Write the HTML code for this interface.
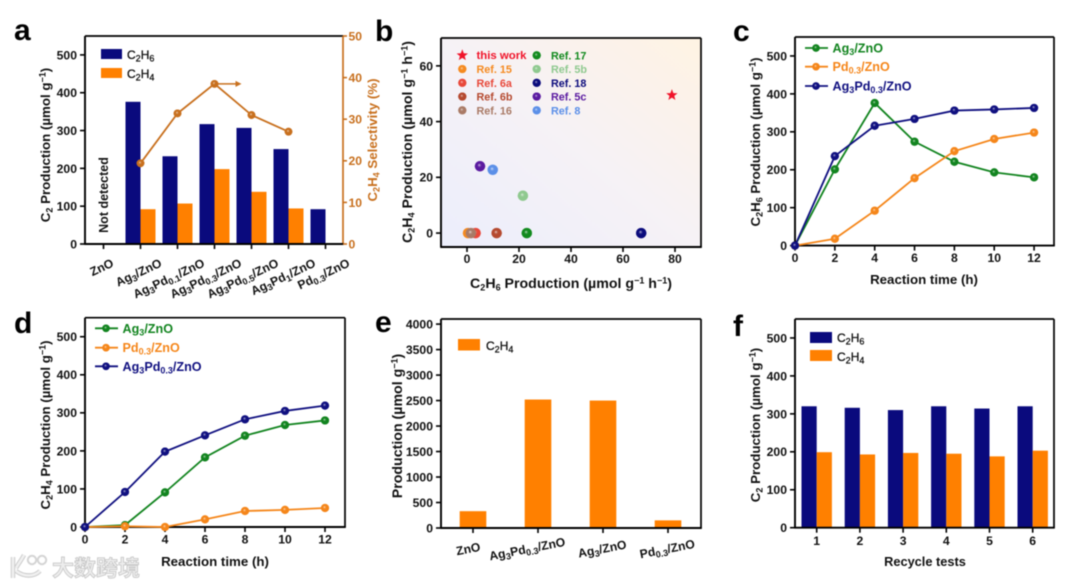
<!DOCTYPE html>
<html lang="en">
<head>
<meta charset="utf-8">
<title>C2 production charts</title>
<style>
html,body{margin:0;padding:0;background:#fff;}
#figure{display:block;width:1080px;height:588px;filter:blur(0.5px);}
text{font-family:"Liberation Sans","Noto Sans CJK SC",sans-serif;font-weight:bold;fill:#111;}
.title{font-size:13.3px;}
.wide-title{font-size:14.2px;}
.tick{font-size:12.2px;}
.panel{font-size:30px;fill:#000;}
.legend{font-size:12px;font-weight:normal;stroke:#111;stroke-width:0.3px;}
.sub{font-size:9px;}
.sup{font-size:9px;}
</style>
</head>
<body>
<svg id="figure" xmlns="http://www.w3.org/2000/svg" width="1080" height="588" viewBox="0 0 1080 588">
  <defs>
    <linearGradient id="b-bg" x1="0" y1="1" x2="1" y2="0">
      <stop offset="0" stop-color="#eceefc"/>
      <stop offset="0.5" stop-color="#f6f2f6"/>
      <stop offset="1" stop-color="#fff3e3"/>
    </linearGradient>
  </defs>
  <rect x="0" y="0" width="1080" height="588" fill="#fff"/>

  <text class="panel" x="14" y="40">a</text>
  <text class="panel" x="375" y="41">b</text>
  <text class="panel" x="733" y="41">c</text>
  <text class="panel" x="14" y="333">d</text>
  <text class="panel" x="375" y="332">e</text>
  <text class="panel" x="733" y="336">f</text>

  <rect x="441" y="38" width="260" height="209" fill="url(#b-bg)"/>

  <g id="layer-a"></g>
  <g id="layer-b"></g>
  <g id="layer-c"></g>
  <g id="layer-d"></g>
  <g id="layer-e"></g>
  <g id="layer-f"></g>

  <!-- Chart a static text -->
  <text class="title" transform="translate(50,145) rotate(-90)" text-anchor="middle">C<tspan class="sub" dy="2.5">2</tspan><tspan dy="-2.5"> Production (µmol g</tspan><tspan class="sup" dy="-4.5">−1</tspan><tspan dy="4.5">)</tspan></text>
  <text class="title" transform="translate(377,140) rotate(-90)" text-anchor="middle" style="fill:#c8701e">C<tspan class="sub" dy="2.5" style="fill:#c8701e">2</tspan><tspan dy="-2.5" style="fill:#c8701e">H</tspan><tspan class="sub" dy="2.5" style="fill:#c8701e">4</tspan><tspan dy="-2.5" style="fill:#c8701e"> Selectivity (%)</tspan></text>
  <text class="title" transform="translate(108,195) rotate(-90)" text-anchor="middle" style="font-size:12.5px">Not detected</text>
  <rect x="101" y="49" width="21" height="10" fill="#0a0a7d"/>
  <rect x="101" y="68" width="21" height="10" fill="#ff8000"/>
  <text class="legend" x="127" y="59">C<tspan class="sub" dy="2.5">2</tspan><tspan dy="-2.5">H</tspan><tspan class="sub" dy="2.5">6</tspan></text>
  <text class="legend" x="127" y="78">C<tspan class="sub" dy="2.5">2</tspan><tspan dy="-2.5">H</tspan><tspan class="sub" dy="2.5">4</tspan></text>

  <!-- Chart b static text -->
  <text class="wide-title" x="571" y="288" text-anchor="middle">C<tspan class="sub" dy="2.5">2</tspan><tspan dy="-2.5">H</tspan><tspan class="sub" dy="2.5">6</tspan><tspan dy="-2.5"> Production (µmol g</tspan><tspan class="sup" dy="-4.5">−1</tspan><tspan dy="4.5"> h</tspan><tspan class="sup" dy="-4.5">−1</tspan><tspan dy="4.5">)</tspan></text>
  <text class="wide-title" transform="translate(412,142) rotate(-90)" text-anchor="middle">C<tspan class="sub" dy="2.5">2</tspan><tspan dy="-2.5">H</tspan><tspan class="sub" dy="2.5">4</tspan><tspan dy="-2.5"> Production (µmol g</tspan><tspan class="sup" dy="-4.5">−1</tspan><tspan dy="4.5"> h</tspan><tspan class="sup" dy="-4.5">−1</tspan><tspan dy="4.5">)</tspan></text>

  <!-- Chart c static text -->
  <text class="title" x="924" y="284" text-anchor="middle">Reaction time (h)</text>
  <text class="title" transform="translate(760,142) rotate(-90)" text-anchor="middle">C<tspan class="sub" dy="2.5">2</tspan><tspan dy="-2.5">H</tspan><tspan class="sub" dy="2.5">6</tspan><tspan dy="-2.5"> Production (µmol g</tspan><tspan class="sup" dy="-4.5">−1</tspan><tspan dy="4.5">)</tspan></text>

  <!-- Chart d static text -->
  <text class="title" x="215" y="566" text-anchor="middle">Reaction time (h)</text>
  <text class="title" transform="translate(50,425) rotate(-90)" text-anchor="middle">C<tspan class="sub" dy="2.5">2</tspan><tspan dy="-2.5">H</tspan><tspan class="sub" dy="2.5">4</tspan><tspan dy="-2.5"> Production (µmol g</tspan><tspan class="sup" dy="-4.5">−1</tspan><tspan dy="4.5">)</tspan></text>

  <!-- Chart e static text -->
  <text class="wide-title" transform="translate(402,426) rotate(-90)" text-anchor="middle">Production (µmol g<tspan class="sup" dy="-4.5">−1</tspan><tspan dy="4.5">)</tspan></text>
  <rect x="458" y="339" width="22" height="11.5" fill="#ff8000"/>
  <text class="legend" x="486" y="350">C<tspan class="sub" dy="2.5">2</tspan><tspan dy="-2.5">H</tspan><tspan class="sub" dy="2.5">4</tspan></text>

  <!-- Chart f static text -->
  <text class="title" x="925" y="566" text-anchor="middle" style="font-size:12.8px">Recycle tests</text>
  <text class="title" transform="translate(760,425) rotate(-90)" text-anchor="middle">C<tspan class="sub" dy="2.5">2</tspan><tspan dy="-2.5"> Production (µmol g</tspan><tspan class="sup" dy="-4.5">−1</tspan><tspan dy="4.5">)</tspan></text>
  <rect x="810" y="332" width="22" height="11" fill="#0a0a7d"/>
  <rect x="810" y="350" width="22" height="11" fill="#ff8000"/>
  <text class="legend" x="837" y="342">C<tspan class="sub" dy="2.5">2</tspan><tspan dy="-2.5">H</tspan><tspan class="sub" dy="2.5">6</tspan></text>
  <text class="legend" x="837" y="361">C<tspan class="sub" dy="2.5">2</tspan><tspan dy="-2.5">H</tspan><tspan class="sub" dy="2.5">4</tspan></text>

  <!-- Watermark -->
  <g>
    <path d="M13 557 L13 578 M16 571 C24 577 34 577 40 571 M16 568 C19 563 22 559 24 555" fill="none" stroke="#c9c9c9" stroke-width="4.4"/>
    <path d="M13 557 L13 578 M16 571 C24 577 34 577 40 571 M16 568 C19 563 22 559 24 555" fill="none" stroke="#f0f0f0" stroke-width="2.6"/>
    <circle cx="32" cy="560" r="4.2" fill="none" stroke="#d4d4d4" stroke-width="2"/>
    <circle cx="42" cy="560" r="4.2" fill="none" stroke="#d4d4d4" stroke-width="2"/>
    <text x="52" y="576" style="font-size:22px;font-weight:bold;fill:#ededed;stroke:#c6c6c6;stroke-width:0.8px">大数跨境</text>
  </g>

  <script>
  // ---------- Chart a data ----------
  const aCategories = ['ZnO','Ag_{3}/ZnO','Ag_{3}Pd_{0.1}/ZnO','Ag_{3}Pd_{0.3}/ZnO','Ag_{3}Pd_{0.5}/ZnO','Ag_{3}Pd_{1}/ZnO','Pd_{0.3}/ZnO'];
  const aC2H6 = [0,376,232,317,307,251,92];
  const aC2H4 = [0,92,107,198,138,94,0];
  const aSelectivity = [null,19.4,31.4,38.5,31,27,null];
  const aLeftTicks = [0,100,200,300,400,500];
  const aRightTicks = [0,10,20,30,40,50];

  // ---------- Chart b data ----------
  const bRefs = ['Ref. 15','Ref. 6a','Ref. 6b','Ref. 16','Ref. 17','Ref. 5b','Ref. 18','Ref. 5c','Ref. 8'];
  const bRefX = [0.4,3.3,11.4,1.5,23,21.5,67,5,9.9];
  const bRefY = [0,0,0,0,0,13.4,0,24,22.7];
  const bRefColors = ['#f58a20','#e8483a','#b5492f','#a97a66','#128a1e','#8fc98f','#0b0b7c','#5a1aa0','#5b8fe8'];
  const bThisWorkX = 78.8;
  const bThisWorkY = 49.5;
  const bXTicks = [0,20,40,60,80];
  const bYTicks = [0,20,40,60];

  // ---------- Chart c data ----------
  const cTimes = [0,2,4,6,8,10,12];
  const cAg3 = [0,201,376,274,221,193,180];
  const cPd = [0,18,92,178,249,281,298];
  const cAg3Pd = [0,236,316,334,356,359,363];
  const cYTicks = [0,100,200,300,400,500];

  // ---------- Chart d data ----------
  const dTimes = [0,2,4,6,8,10,12];
  const dAg3 = [0,5,91,183,240,268,280];
  const dPd = [0,2,0,20,42,45,50];
  const dAg3Pd = [0,92,198,241,283,305,319];
  const dYTicks = [0,100,200,300,400,500];

  // ---------- Chart e data ----------
  const eCategories = ['ZnO','Ag_{3}Pd_{0.3}/ZnO','Ag_{3}/ZnO','Pd_{0.3}/ZnO'];
  const eC2H4 = [330,2520,2500,150];
  const eYTicks = [0,500,1000,1500,2000,2500,3000,3500,4000];

  // ---------- Chart f data ----------
  const fTests = ['1','2','3','4','5','6'];
  const fC2H6 = [320,316,310,320,314,320];
  const fC2H4 = [199,193,197,195,188,203];
  const fYTicks = [0,100,200,300,400,500];

  const NS = 'http://www.w3.org/2000/svg';
  const NAVY = '#0a0a7d', ORANGE = '#ff8000', GREEN = '#12841f', LINE_ORANGE = '#f5861a', LINE_NAVY = '#101080', BROWN = '#c8701e';
  const figure = document.getElementById('figure');
  const defs = figure.querySelector('defs');

  function linear(d0, d1, r0, r1) {
    return function (v) { return r0 + (v - d0) * (r1 - r0) / (d1 - d0); };
  }

  function add(parent, tag, name, attrs) {
    const el = document.createElementNS(NS, tag);
    
    
    for (const k in attrs) el.setAttribute(k, attrs[k]);
    parent.appendChild(el);
    return el;
  }

  function rich(el, str) {
    const parts = str.split(/(_\{[^}]*\})/);
    let shift = 0;
    parts.forEach(function (p) {
      if (!p) return;
      const ts = document.createElementNS(NS, 'tspan');
      if (p.charAt(0) === '_' && p.charAt(1) === '{') {
        ts.textContent = p.slice(2, -1);
        ts.setAttribute('class', 'sub');
        ts.setAttribute('dy', 2.5 - shift);
        shift = 2.5;
      } else {
        ts.textContent = p;
        ts.setAttribute('dy', -shift);
        shift = 0;
      }
      el.appendChild(ts);
    });
    return el;
  }

  let gradCount = 0;
  function sphere(color) {
    const id = 'sphere-' + (gradCount++);
    const g = document.createElementNS(NS, 'radialGradient');
    g.setAttribute('id', id);
    g.setAttribute('cx', '0.5');
    g.setAttribute('cy', '0.5');
    g.setAttribute('r', '0.55');
    g.setAttribute('fx', '0.42');
    g.setAttribute('fy', '0.38');
    [[0, '#ffffff', 0.8], [0.4, color, 0.25], [1, color, 1]].forEach(function (s) {
      const st = document.createElementNS(NS, 'stop');
      st.setAttribute('offset', s[0]);
      st.setAttribute('stop-color', s[1]);
      st.setAttribute('stop-opacity', s[2]);
      g.appendChild(st);
    });
    defs.appendChild(g);
    return 'url(#' + id + ')';
  }

  function marker(parent, name, x, y, r, color, fill) {
    add(parent, 'circle', name, { cx: x, cy: y, r: r, fill: color });
    add(parent, 'circle', name + '-shine', { cx: x, cy: y, r: r, fill: fill || sphere(color) });
  }

  function starPoints(cx, cy, r) {
    const pts = [];
    for (let i = 0; i < 10; i++) {
      const rad = i % 2 ? r * 0.42 : r;
      const a = -Math.PI / 2 + i * Math.PI / 5;
      pts.push((cx + rad * Math.cos(a)).toFixed(2) + ',' + (cy + rad * Math.sin(a)).toFixed(2));
    }
    return pts.join(' ');
  }

  function frame(parent, prefix, l, t, r, b, rightColor) {
    add(parent, 'line', prefix + '-top-border', { x1: l, x2: r, y1: t, y2: t, stroke: '#000', 'stroke-width': 1.7 });
    add(parent, 'line', prefix + '-right-border', { x1: r, x2: r, y1: t, y2: b, stroke: rightColor || '#000', 'stroke-width': 1.7 });
    add(parent, 'line', prefix + '-x-axis', { x1: l - 0.8, x2: r + 0.8, y1: b, y2: b, stroke: '#000', 'stroke-width': 1.9 });
    add(parent, 'line', prefix + '-y-axis', { x1: l, x2: l, y1: t, y2: b, stroke: '#000', 'stroke-width': 1.9 });
  }

  function yAxisTicks(parent, prefix, ticks, y, l) {
    ticks.forEach(function (v) {
      add(parent, 'line', prefix + '-y-tick-' + v, { x1: l - 5, x2: l, y1: y(v), y2: y(v), stroke: '#000', 'stroke-width': 1.6 });
      const t = add(parent, 'text', prefix + '-y-tick-label-' + v, { x: l - 8, y: y(v) + 4.4, 'text-anchor': 'end', class: 'tick' });
      t.textContent = v;
    });
  }

  function xAxisTicks(parent, prefix, values, labels, x, b, baseline) {
    values.forEach(function (v, i) {
      add(parent, 'line', prefix + '-x-tick-' + labels[i], { x1: x(v), x2: x(v), y1: b, y2: b + 5, stroke: '#000', 'stroke-width': 1.6 });
      const t = add(parent, 'text', prefix + '-x-tick-label-' + labels[i], { x: x(v), y: baseline, 'text-anchor': 'middle', class: 'tick' });
      t.textContent = labels[i];
    });
  }

  function bars(parent, prefix, values, x, y, width, color, offset) {
    values.forEach(function (v, i) {
      add(parent, 'rect', prefix + '-' + (i + 1), {
        x: x(i) + offset, y: y(v), width: width, height: Math.max(0, y(0) - y(v)), fill: color
      });
    });
  }

  function lineSeries(parent, prefix, xs, ys, x, y, color, r) {
    const pts = xs.map(function (v, i) { return x(v) + ',' + y(ys[i]); }).join(' ');
    add(parent, 'polyline', prefix + '-line', { points: pts, fill: 'none', stroke: color, 'stroke-width': 1.8 });
    const fill = sphere(color);
    xs.forEach(function (v, i) {
      marker(parent, prefix + '-point-' + v, x(v), y(ys[i]), r, color, fill);
    });
  }

  function lineLegend(parent, prefix, x0, labelX, y, label, color) {
    add(parent, 'line', prefix + '-legend-line', { x1: x0, x2: x0 + 23, y1: y, y2: y, stroke: color, 'stroke-width': 1.8 });
    marker(parent, prefix + '-legend-marker', x0 + 11, y, 3.8, color);
    const t = add(parent, 'text', prefix + '-legend-label', { x: labelX, y: y + 4.5 });
    t.style.fontSize = '12.6px';
    t.style.fill = color;
    rich(t, label);
    t.querySelectorAll('tspan').forEach(function (s) { s.style.fill = color; });
  }

  // ---------- Draw chart a ----------
  (function () {
    const g = document.getElementById('layer-a');
    const x = linear(0, 6, 103.5, 325.5);
    const y = linear(0, 550, 244, 36);
    const ySel = linear(0, 50, 244, 36);
    bars(g, 'a-bar-c2h6', aC2H6, x, y, 15, NAVY, -15);
    bars(g, 'a-bar-c2h4', aC2H4, x, y, 15, ORANGE, 0);
    frame(g, 'a', 85, 36, 343, 244, BROWN);
    yAxisTicks(g, 'a', aLeftTicks, y, 85);
    aRightTicks.forEach(function (v) {
      add(g, 'line', 'a-right-tick-' + v, { x1: 343, x2: 347, y1: ySel(v), y2: ySel(v), stroke: BROWN, 'stroke-width': 1.6 });
      const t = add(g, 'text', 'a-right-tick-label-' + v, { x: 348.5, y: ySel(v) + 4.4, class: 'tick' });
      t.style.fill = BROWN;
      t.textContent = v;
    });
    aCategories.forEach(function (c, i) {
      add(g, 'line', 'a-x-tick-' + i, { x1: x(i), x2: x(i), y1: 244, y2: 249, stroke: '#000', 'stroke-width': 1.6 });
      const t = add(g, 'text', 'a-x-tick-label-' + i, { 'text-anchor': 'end', class: 'tick' });
      rich(t, c);
      const w = t.getComputedTextLength();
      t.setAttribute('transform', 'translate(' + (x(i) + Math.min(28, 0.45 * w)) + ',266) rotate(-25)');
    });
    const pts = [];
    aSelectivity.forEach(function (v, i) { if (v !== null) pts.push(x(i) + ',' + ySel(v)); });
    add(g, 'polyline', 'a-selectivity-line', { points: pts.join(' '), fill: 'none', stroke: BROWN, 'stroke-width': 1.8 });
    const fill = sphere(BROWN);
    aSelectivity.forEach(function (v, i) {
      if (v !== null) marker(g, 'a-selectivity-point-' + i, x(i), ySel(v), 3.9, BROWN, fill);
    });
    const ax = x(3), ay = ySel(aSelectivity[3]);
    add(g, 'line', 'a-selectivity-arrow-line', { x1: ax, x2: ax + 22, y1: ay, y2: ay, stroke: BROWN, 'stroke-width': 1.5 });
    add(g, 'polygon', 'a-selectivity-arrow-head', { points: (ax + 21) + ',' + (ay - 3) + ' ' + (ax + 27) + ',' + ay + ' ' + (ax + 21) + ',' + (ay + 3), fill: BROWN });
  })();

  // ---------- Draw chart b ----------
  (function () {
    const g = document.getElementById('layer-b');
    const x = linear(-10, 90, 441, 701);
    const y = linear(-5, 70, 247, 38);
    frame(g, 'b', 441, 38, 701, 247);
    yAxisTicks(g, 'b', bYTicks, y, 441);
    xAxisTicks(g, 'b', bXTicks, bXTicks, x, 247, 263);
    bRefs.forEach(function (name, i) {
      const key = 'b-point-' + name.replace(/[ .]+/g, '-').toLowerCase();
      marker(g, key, x(bRefX[i]), y(bRefY[i]), 5.2, bRefColors[i]);
    });
    add(g, 'polygon', 'b-point-this-work', { points: starPoints(x(bThisWorkX), y(bThisWorkY), 6), fill: '#f0142a' });

    add(g, 'polygon', 'b-legend-star', { points: starPoints(462.3, 55.3, 6), fill: '#f0142a' });
    const thisWork = add(g, 'text', 'b-legend-label-this-work', { x: 476.5, y: 59.2 });
    thisWork.style.fontSize = '11.4px';
    thisWork.style.fill = '#f0142a';
    thisWork.textContent = 'this work';
    bRefs.forEach(function (name, i) {
      const col = i < 4 ? 0 : 1;
      const row = i < 4 ? i + 1 : i - 4;
      const ly = 55.3 + row * 13.75;
      const key = 'b-legend-' + name.replace(/[ .]+/g, '-').toLowerCase();
      marker(g, key + '-marker', col ? 536.7 : 462.3, ly, 4.1, bRefColors[i]);
      const t = add(g, 'text', key + '-label', { x: col ? 551 : 476.5, y: ly + 4 });
      t.style.fontSize = '10.8px';
      t.style.fill = bRefColors[i];
      t.textContent = name;
    });
  })();

  // ---------- Draw chart c ----------
  (function () {
    const g = document.getElementById('layer-c');
    const x = linear(0, 13, 795, 1054);
    const y = linear(0, 550, 245.6, 37);
    frame(g, 'c', 795, 37, 1054, 245.6);
    yAxisTicks(g, 'c', cYTicks, y, 795);
    xAxisTicks(g, 'c', cTimes, cTimes, x, 245.6, 262);
    lineSeries(g, 'c-ag3', cTimes, cAg3, x, y, GREEN, 4.1);
    lineSeries(g, 'c-pd', cTimes, cPd, x, y, LINE_ORANGE, 4.1);
    lineSeries(g, 'c-ag3pd', cTimes, cAg3Pd, x, y, LINE_NAVY, 4.1);
    lineLegend(g, 'c-ag3', 805, 832.5, 48, 'Ag_{3}/ZnO', GREEN);
    lineLegend(g, 'c-pd', 805, 832.5, 66.7, 'Pd_{0.3}/ZnO', LINE_ORANGE);
    lineLegend(g, 'c-ag3pd', 805, 832.5, 86, 'Ag_{3}Pd_{0.3}/ZnO', LINE_NAVY);
  })();

  // ---------- Draw chart d ----------
  (function () {
    const g = document.getElementById('layer-d');
    const x = linear(0, 13, 85, 345);
    const y = linear(0, 550, 527, 317.7);
    frame(g, 'd', 85, 317.7, 345, 527);
    yAxisTicks(g, 'd', dYTicks, y, 85);
    xAxisTicks(g, 'd', dTimes, dTimes, x, 527, 543.5);
    lineSeries(g, 'd-ag3', dTimes, dAg3, x, y, GREEN, 4.1);
    lineSeries(g, 'd-pd', dTimes, dPd, x, y, LINE_ORANGE, 4.1);
    lineSeries(g, 'd-ag3pd', dTimes, dAg3Pd, x, y, LINE_NAVY, 4.1);
    lineLegend(g, 'd-ag3', 95, 122.5, 328.3, 'Ag_{3}/ZnO', GREEN);
    lineLegend(g, 'd-pd', 95, 122.5, 347.7, 'Pd_{0.3}/ZnO', LINE_ORANGE);
    lineLegend(g, 'd-ag3pd', 95, 122.5, 366.3, 'Ag_{3}Pd_{0.3}/ZnO', LINE_NAVY);
  })();

  // ---------- Draw chart e ----------
  (function () {
    const g = document.getElementById('layer-e');
    const x = linear(0, 3, 473, 668);
    const y = linear(0, 4100, 528, 319);
    bars(g, 'e-bar-c2h4', eC2H4, x, y, 26.6, ORANGE, -13.3);
    frame(g, 'e', 441, 319, 701, 528);
    yAxisTicks(g, 'e', eYTicks, y, 441);
    eCategories.forEach(function (c, i) {
      add(g, 'line', 'e-x-tick-' + i, { x1: x(i), x2: x(i), y1: 528, y2: 533, stroke: '#000', 'stroke-width': 1.6 });
      const t = add(g, 'text', 'e-x-tick-label-' + i, { 'text-anchor': 'middle', class: 'tick' });
      rich(t, c);
      const w = t.getComputedTextLength();
      const dx = w < 30 ? -4 : (w > 70 ? -10 : 0);
      t.setAttribute('transform', 'translate(' + (x(i) + dx) + ',553) rotate(-11)');
    });
  })();

  // ---------- Draw chart f ----------
  (function () {
    const g = document.getElementById('layer-f');
    const x = linear(0, 5, 816.7, 1032.7);
    const y = linear(0, 550, 527.7, 319);
    bars(g, 'f-bar-c2h6', fC2H6, x, y, 15.2, NAVY, -15.2);
    bars(g, 'f-bar-c2h4', fC2H4, x, y, 15.2, ORANGE, 0);
    frame(g, 'f', 795, 319, 1054, 527.7);
    yAxisTicks(g, 'f', fYTicks, y, 795);
    xAxisTicks(g, 'f', fTests.map(function (_, i) { return i; }), fTests, x, 527.7, 545);
  })();
  </script>
</svg>
</body>
</html>
